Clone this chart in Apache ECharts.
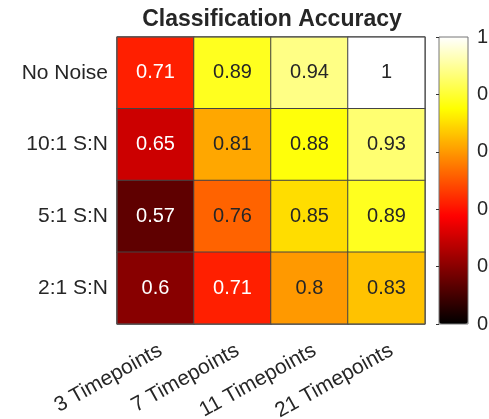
<!DOCTYPE html>
<html>
<head>
<meta charset="utf-8">
<script src="https://cdn.jsdelivr.net/npm/echarts@6/dist/echarts.min.js"></script>
<style>
html,body{margin:0;padding:0;background:#fff;}
#chart{width:489px;height:419px;}
</style>
</head>
<body>
<div id="chart"></div>
<script>
var xCategories = ['3 Timepoints', '7 Timepoints', '11 Timepoints', '21 Timepoints'];
var yCategories = ['No Noise', '10:1 S:N', '5:1 S:N', '2:1 S:N'];
var noNoise = [0.71, 0.89, 0.94, 1];
var sn10to1 = [0.65, 0.81, 0.88, 0.93];
var sn5to1 = [0.57, 0.76, 0.85, 0.89];
var sn2to1 = [0.6, 0.71, 0.8, 0.83];
var colorMin = 0.5, colorMax = 1, colorStep = 0.1;

var rows = [noNoise, sn10to1, sn5to1, sn2to1];
var hot = ['#000000', '#550000', '#aa0000', '#ff0000', '#ff5500', '#ffaa00', '#ffff00', '#ffff80', '#ffffff'];
var font = 'Liberation Sans, Arial, Helvetica, sans-serif';
var txt = '#262626';

var data = [];
rows.forEach(function (row, yi) {
  row.forEach(function (v, xi) {
    data.push({
      value: [xi, yi, v],
      label: { color: v < 0.75 ? '#ffffff' : txt }
    });
  });
});

var chart = echarts.init(document.getElementById('chart'), null, { renderer: 'canvas' });
chart.setOption({
  animation: false,
  backgroundColor: '#ffffff',
  title: {
    text: 'Classification Accuracy',
    left: 272, top: 8, textAlign: 'center', padding: 0,
    textStyle: { fontFamily: font, fontSize: 23, fontWeight: 'bold', color: txt }
  },
  grid: [
    { left: 117, top: 37, width: 308, height: 287, show: true, borderColor: '#555', borderWidth: 1, backgroundColor: 'transparent', z: 3, outerBoundsMode: 'none', containLabel: false },
    { left: 439, top: 37, width: 29, height: 287, show: true, borderColor: '#777', borderWidth: 1, backgroundColor: 'transparent', z: 10, outerBoundsMode: 'none', containLabel: false }
  ],
  xAxis: [
    {
      type: 'category', data: xCategories, gridIndex: 0,
      axisLine: { show: false }, axisTick: { show: false }, splitLine: { show: false },
      axisLabel: { rotate: 29, margin: 16, align: 'right', verticalAlign: 'top', fontFamily: font, fontSize: 21, color: txt }
    },
    { type: 'value', gridIndex: 1, show: false, min: 0, max: 1 }
  ],
  yAxis: [
    {
      type: 'category', data: yCategories, gridIndex: 0, inverse: true,
      axisLine: { show: false }, axisTick: { show: false }, splitLine: { show: false },
      axisLabel: { margin: 9, fontFamily: font, fontSize: 21, color: txt }
    },
    {
      type: 'value', gridIndex: 1, position: 'right', min: colorMin, max: colorMax, interval: colorStep, z: 10,
      axisLine: { show: false }, splitLine: { show: false },
      axisTick: { show: true, inside: true, length: 3, lineStyle: { color: '#333' } },
      axisLabel: { margin: 9, fontFamily: font, fontSize: 20, color: txt,
        formatter: function (v) { return String(Math.round(v * 10) / 10); } }
    }
  ],
  visualMap: {
    type: 'continuous', min: colorMin, max: colorMax, seriesIndex: 0,
    left: 439, top: 37, itemWidth: 29, itemHeight: 287, padding: 0,
    calculable: false, text: null, showLabel: false, hoverLink: false,
    inRange: { color: hot }
  },
  series: [{
    type: 'heatmap', xAxisIndex: 0, yAxisIndex: 0, data: data,
    itemStyle: { borderColor: '#444', borderWidth: 1 },
    label: {
      show: true, fontFamily: font, fontSize: 20,
      formatter: function (p) { return String(p.value[2]); }
    }
  }]
});
</script>
</body>
</html>
